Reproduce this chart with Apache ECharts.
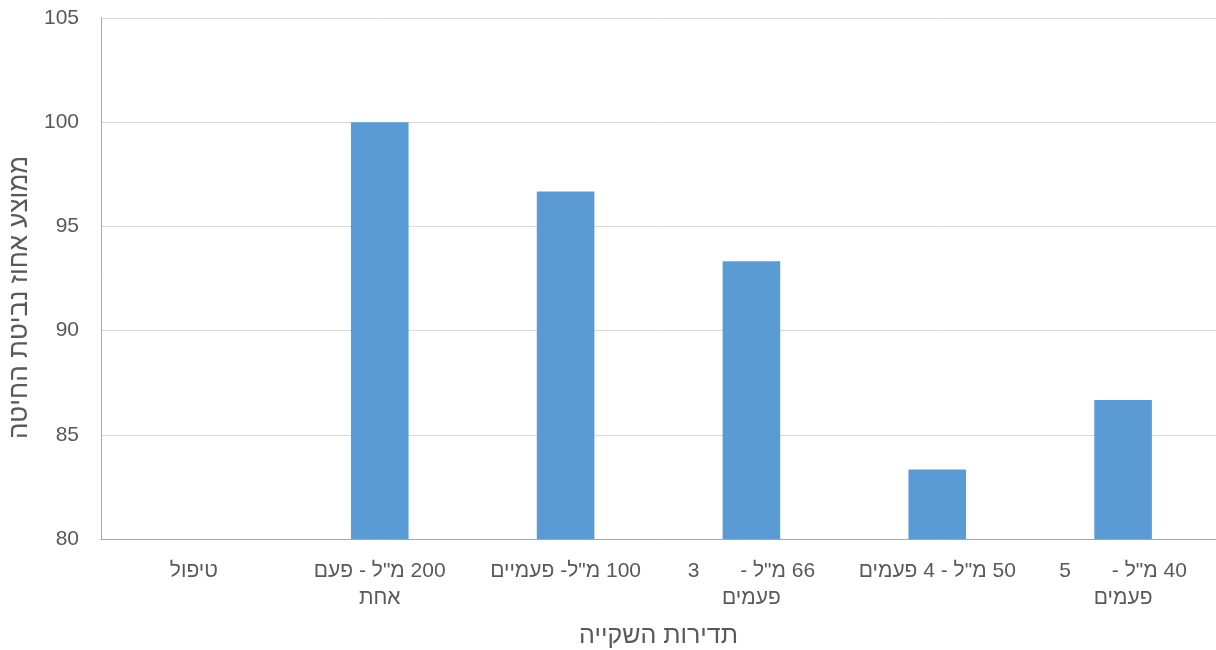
<!DOCTYPE html>
<html>
<head>
<meta charset="utf-8">
<script src="https://cdn.jsdelivr.net/npm/echarts@6/dist/echarts.min.js"></script>
<style>
  html, body { margin: 0; padding: 0; background: #ffffff; }
  #chart { width: 1216px; height: 650px; direction: rtl; }
</style>
</head>
<body>
<div id="chart"></div>
<script>
// Irrigation frequency categories (Hebrew, right-to-left text)
const RLM = '\u200F';
const categories = [
  'טיפול',
  '200 מ"ל - פעם\nאחת',
  '100 מ"ל- פעמיים',
  '66 מ"ל -       3\nפעמים',
  '50 מ"ל - 4 פעמים',
  '40 מ"ל -       5\nפעמים'
];
// Average wheat germination percentage per treatment
const germination = [80, 100, 96.67, 93.33, 83.33, 86.67];
const yTicks = { min: 80, max: 105, interval: 5 };
const xTitle = 'תדירות השקייה';
const yTitle = 'ממוצע אחוז נביטת החיטה';

const FONT = '"Liberation Sans", "DejaVu Sans", sans-serif';
const chart = echarts.init(document.getElementById('chart'), null, { renderer: 'canvas' });

chart.setOption({
  animation: false,
  backgroundColor: '#ffffff',
  grid: { left: 101, right: 0, top: 18, bottom: 111, containLabel: false, outerBoundsMode: 'none' },
  xAxis: {
    type: 'category',
    data: categories.map(c => c.split('\n').map(l => RLM + l).join('\n')),
    axisLine: { lineStyle: { color: '#86aedc', width: 1 } },
    axisTick: { show: false },
    axisLabel: {
      color: '#595959', fontSize: 21, fontFamily: FONT,
      margin: 19, lineHeight: 27, interval: 0
    },
    name: RLM + xTitle,
    nameLocation: 'middle',
    nameGap: 85,
    nameTextStyle: { color: '#595959', fontSize: 25, fontFamily: FONT }
  },
  yAxis: {
    type: 'value',
    min: yTicks.min, max: yTicks.max, interval: yTicks.interval,
    axisLine: { show: true, lineStyle: { color: '#86aedc', width: 1 } },
    axisTick: { show: false },
    splitLine: { lineStyle: { color: '#d9d9d9', width: 1 } },
    axisLabel: { color: '#595959', fontSize: 21, fontFamily: FONT, margin: 22 },
    name: RLM + yTitle,
    nameLocation: 'middle',
    nameGap: 66,
    nameRotate: 90,
    nameTextStyle: { color: '#595959', fontSize: 26, fontFamily: FONT, padding: [0, 38, 0, 0] }
  },
  series: [{
    type: 'bar',
    data: germination,
    barWidth: '31%',
    itemStyle: { color: '#5b9bd5' }
  }]
});
</script>
</body>
</html>
